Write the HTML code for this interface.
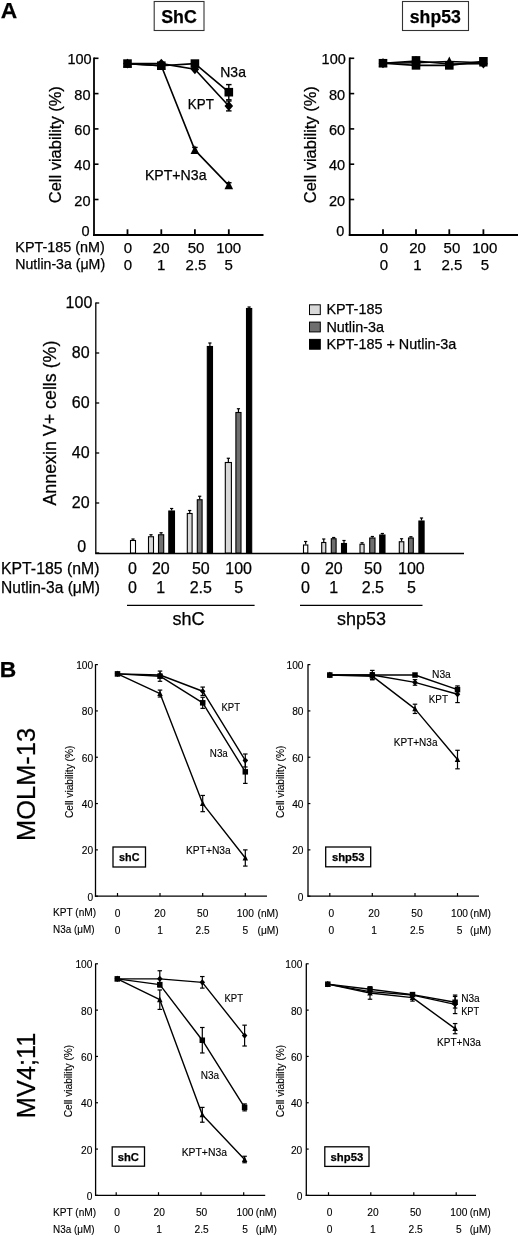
<!DOCTYPE html>
<html><head><meta charset="utf-8"><style>
html,body{margin:0;padding:0;background:#fff;}
svg{display:block;filter:grayscale(1);}
text{font-family:"Liberation Sans", sans-serif;stroke:#000;stroke-width:0.25px;}
text.sm{stroke-width:0.12px;}
</style></head><body>
<svg width="520" height="1236" viewBox="0 0 520 1236">
<rect width="520" height="1236" fill="#fff"/>
<line x1="94.00" y1="57.50" x2="94.00" y2="235.90" stroke="#000" stroke-width="1.8"/>
<line x1="93.10" y1="235.00" x2="263.50" y2="235.00" stroke="#000" stroke-width="1.8"/>
<text x="89.60" y="236.20" font-size="14.5" text-anchor="end">0</text>
<line x1="94.00" y1="199.50" x2="98.50" y2="199.50" stroke="#000" stroke-width="1.6"/>
<text x="90.50" y="205.50" font-size="14.5" text-anchor="end">20</text>
<line x1="94.00" y1="164.20" x2="98.50" y2="164.20" stroke="#000" stroke-width="1.6"/>
<text x="90.50" y="170.20" font-size="14.5" text-anchor="end">40</text>
<line x1="94.00" y1="128.90" x2="98.50" y2="128.90" stroke="#000" stroke-width="1.6"/>
<text x="90.50" y="134.90" font-size="14.5" text-anchor="end">60</text>
<line x1="94.00" y1="93.60" x2="98.50" y2="93.60" stroke="#000" stroke-width="1.6"/>
<text x="90.50" y="99.60" font-size="14.5" text-anchor="end">80</text>
<line x1="94.00" y1="58.30" x2="98.50" y2="58.30" stroke="#000" stroke-width="1.6"/>
<text x="91.60" y="64.30" font-size="14.5" text-anchor="end">100</text>
<line x1="127.50" y1="229.30" x2="127.50" y2="235.00" stroke="#000" stroke-width="1.8"/>
<line x1="161.30" y1="229.30" x2="161.30" y2="235.00" stroke="#000" stroke-width="1.8"/>
<line x1="194.90" y1="229.30" x2="194.90" y2="235.00" stroke="#000" stroke-width="1.8"/>
<line x1="228.80" y1="229.30" x2="228.80" y2="235.00" stroke="#000" stroke-width="1.8"/>
<text x="61.30" y="144.70" font-size="16" text-anchor="middle" textLength="117.00" lengthAdjust="spacingAndGlyphs" transform="rotate(-90 61.30 144.70)">Cell viability (%)</text>
<rect x="154.20" y="1.50" width="49.80" height="29.00" fill="#fff" stroke="#333" stroke-width="1.1"/>
<text x="179.00" y="22.70" font-size="19" text-anchor="middle" font-weight="bold" textLength="35.60" lengthAdjust="spacingAndGlyphs">ShC</text>
<polyline points="127.50,63.60 161.30,65.71 194.90,150.08 228.80,185.38" fill="none" stroke="#000" stroke-width="1.6" stroke-linejoin="round"/>
<polyline points="127.50,63.60 161.30,63.60 194.90,69.24 228.80,105.96" fill="none" stroke="#000" stroke-width="1.6" stroke-linejoin="round"/>
<polyline points="127.50,63.60 161.30,65.71 194.90,63.60 228.80,92.19" fill="none" stroke="#000" stroke-width="1.6" stroke-linejoin="round"/>
<line x1="194.90" y1="147.43" x2="194.90" y2="152.73" stroke="#000" stroke-width="1.4"/>
<line x1="192.15" y1="147.43" x2="197.65" y2="147.43" stroke="#000" stroke-width="1.4"/>
<line x1="192.15" y1="152.73" x2="197.65" y2="152.73" stroke="#000" stroke-width="1.4"/>
<line x1="228.80" y1="182.73" x2="228.80" y2="188.03" stroke="#000" stroke-width="1.4"/>
<line x1="226.05" y1="182.73" x2="231.55" y2="182.73" stroke="#000" stroke-width="1.4"/>
<line x1="226.05" y1="188.03" x2="231.55" y2="188.03" stroke="#000" stroke-width="1.4"/>
<line x1="228.80" y1="101.01" x2="228.80" y2="110.90" stroke="#000" stroke-width="1.4"/>
<line x1="226.05" y1="101.01" x2="231.55" y2="101.01" stroke="#000" stroke-width="1.4"/>
<line x1="226.05" y1="110.90" x2="231.55" y2="110.90" stroke="#000" stroke-width="1.4"/>
<line x1="228.80" y1="84.60" x2="228.80" y2="99.78" stroke="#000" stroke-width="1.4"/>
<line x1="226.05" y1="84.60" x2="231.55" y2="84.60" stroke="#000" stroke-width="1.4"/>
<line x1="226.05" y1="99.78" x2="231.55" y2="99.78" stroke="#000" stroke-width="1.4"/>
<polygon points="127.50,58.65 131.80,67.47 123.20,67.47" fill="#000"/>
<polygon points="161.30,60.77 165.60,69.58 157.00,69.58" fill="#000"/>
<polygon points="194.90,145.14 199.20,153.95 190.60,153.95" fill="#000"/>
<polygon points="228.80,180.44 233.10,189.25 224.50,189.25" fill="#000"/>
<polygon points="127.50,58.65 131.80,63.60 127.50,68.54 123.20,63.60" fill="#000"/>
<polygon points="161.30,58.65 165.60,63.60 161.30,68.54 157.00,63.60" fill="#000"/>
<polygon points="194.90,64.30 199.20,69.24 194.90,74.19 190.60,69.24" fill="#000"/>
<polygon points="228.80,101.01 233.10,105.96 228.80,110.90 224.50,105.96" fill="#000"/>
<rect x="123.20" y="59.30" width="8.60" height="8.60" fill="#000"/>
<rect x="157.00" y="61.41" width="8.60" height="8.60" fill="#000"/>
<rect x="190.60" y="59.30" width="8.60" height="8.60" fill="#000"/>
<rect x="224.50" y="87.89" width="8.60" height="8.60" fill="#000"/>
<text x="220.30" y="76.60" font-size="14.5" textLength="25.60" lengthAdjust="spacingAndGlyphs">N3a</text>
<text x="187.80" y="108.90" font-size="14.5" textLength="26.00" lengthAdjust="spacingAndGlyphs">KPT</text>
<text x="144.90" y="179.60" font-size="14.5" textLength="61.60" lengthAdjust="spacingAndGlyphs">KPT+N3a</text>
<line x1="349.70" y1="57.50" x2="349.70" y2="235.90" stroke="#000" stroke-width="1.8"/>
<line x1="348.80" y1="235.00" x2="518.00" y2="235.00" stroke="#000" stroke-width="1.8"/>
<text x="344.30" y="236.20" font-size="14.5" text-anchor="end">0</text>
<line x1="349.70" y1="199.50" x2="354.20" y2="199.50" stroke="#000" stroke-width="1.6"/>
<text x="345.10" y="205.50" font-size="14.5" text-anchor="end">20</text>
<line x1="349.70" y1="164.20" x2="354.20" y2="164.20" stroke="#000" stroke-width="1.6"/>
<text x="345.10" y="170.20" font-size="14.5" text-anchor="end">40</text>
<line x1="349.70" y1="128.90" x2="354.20" y2="128.90" stroke="#000" stroke-width="1.6"/>
<text x="345.10" y="134.90" font-size="14.5" text-anchor="end">60</text>
<line x1="349.70" y1="93.60" x2="354.20" y2="93.60" stroke="#000" stroke-width="1.6"/>
<text x="345.10" y="99.60" font-size="14.5" text-anchor="end">80</text>
<line x1="349.70" y1="58.30" x2="354.20" y2="58.30" stroke="#000" stroke-width="1.6"/>
<text x="345.80" y="64.30" font-size="14.5" text-anchor="end">100</text>
<line x1="383.00" y1="229.30" x2="383.00" y2="235.00" stroke="#000" stroke-width="1.8"/>
<line x1="416.00" y1="229.30" x2="416.00" y2="235.00" stroke="#000" stroke-width="1.8"/>
<line x1="449.30" y1="229.30" x2="449.30" y2="235.00" stroke="#000" stroke-width="1.8"/>
<line x1="483.40" y1="229.30" x2="483.40" y2="235.00" stroke="#000" stroke-width="1.8"/>
<text x="315.90" y="144.70" font-size="16" text-anchor="middle" textLength="117.00" lengthAdjust="spacingAndGlyphs" transform="rotate(-90 315.90 144.70)">Cell viability (%)</text>
<rect x="402.50" y="1.50" width="66.00" height="29.00" fill="#fff" stroke="#333" stroke-width="1.1"/>
<text x="435.30" y="22.70" font-size="18.5" text-anchor="middle" font-weight="bold" textLength="51.00" lengthAdjust="spacingAndGlyphs">shp53</text>
<polyline points="383.00,63.24 416.00,62.71 449.30,61.48 483.40,62.71" fill="none" stroke="#000" stroke-width="1.6" stroke-linejoin="round"/>
<polyline points="383.00,63.24 416.00,60.95 449.30,63.95 483.40,63.60" fill="none" stroke="#000" stroke-width="1.6" stroke-linejoin="round"/>
<polyline points="383.00,63.24 416.00,65.36 449.30,65.36 483.40,61.30" fill="none" stroke="#000" stroke-width="1.6" stroke-linejoin="round"/>
<polygon points="383.00,58.30 387.30,67.11 378.70,67.11" fill="#000"/>
<polygon points="416.00,57.77 420.30,66.58 411.70,66.58" fill="#000"/>
<polygon points="449.30,56.53 453.60,65.35 445.00,65.35" fill="#000"/>
<polygon points="483.40,57.77 487.70,66.58 479.10,66.58" fill="#000"/>
<polygon points="383.00,58.30 387.30,63.24 383.00,68.19 378.70,63.24" fill="#000"/>
<polygon points="416.00,56.00 420.30,60.95 416.00,65.89 411.70,60.95" fill="#000"/>
<polygon points="449.30,59.00 453.60,63.95 449.30,68.89 445.00,63.95" fill="#000"/>
<polygon points="483.40,58.65 487.70,63.60 483.40,68.54 479.10,63.60" fill="#000"/>
<rect x="378.70" y="58.94" width="8.60" height="8.60" fill="#000"/>
<rect x="411.70" y="61.06" width="8.60" height="8.60" fill="#000"/>
<rect x="445.00" y="61.06" width="8.60" height="8.60" fill="#000"/>
<rect x="479.10" y="57.00" width="8.60" height="8.60" fill="#000"/>
<rect x="411.70" y="56.12" width="8.60" height="8.60" fill="#000"/>
<text x="127.90" y="252.50" font-size="15" text-anchor="middle">0</text>
<text x="127.90" y="269.70" font-size="15" text-anchor="middle">0</text>
<text x="161.20" y="252.50" font-size="15" text-anchor="middle">20</text>
<text x="161.20" y="269.70" font-size="15" text-anchor="middle">1</text>
<text x="196.00" y="252.50" font-size="15" text-anchor="middle">50</text>
<text x="196.00" y="269.70" font-size="15" text-anchor="middle">2.5</text>
<text x="228.70" y="252.50" font-size="15" text-anchor="middle">100</text>
<text x="228.70" y="269.70" font-size="15" text-anchor="middle">5</text>
<text x="384.00" y="252.50" font-size="15" text-anchor="middle">0</text>
<text x="384.00" y="269.70" font-size="15" text-anchor="middle">0</text>
<text x="417.50" y="252.50" font-size="15" text-anchor="middle">20</text>
<text x="417.50" y="269.70" font-size="15" text-anchor="middle">1</text>
<text x="451.90" y="252.50" font-size="15" text-anchor="middle">50</text>
<text x="451.90" y="269.70" font-size="15" text-anchor="middle">2.5</text>
<text x="484.80" y="252.50" font-size="15" text-anchor="middle">100</text>
<text x="484.80" y="269.70" font-size="15" text-anchor="middle">5</text>
<text x="15.30" y="251.80" font-size="14.2" textLength="89.60" lengthAdjust="spacingAndGlyphs">KPT-185 (nM)</text>
<text x="15.30" y="268.60" font-size="14.2" textLength="89.80" lengthAdjust="spacingAndGlyphs">Nutlin-3a (μM)</text>
<line x1="95.80" y1="302.40" x2="95.80" y2="553.60" stroke="#000" stroke-width="1.3"/>
<line x1="95.20" y1="553.50" x2="464.00" y2="553.50" stroke="#000" stroke-width="1.3"/>
<line x1="95.80" y1="553.00" x2="99.20" y2="553.00" stroke="#000" stroke-width="1.3"/>
<text x="86.20" y="552.30" font-size="16" text-anchor="end">0</text>
<line x1="95.80" y1="503.00" x2="99.20" y2="503.00" stroke="#000" stroke-width="1.3"/>
<text x="89.60" y="507.90" font-size="16" text-anchor="end">20</text>
<line x1="95.80" y1="453.00" x2="99.20" y2="453.00" stroke="#000" stroke-width="1.3"/>
<text x="89.60" y="457.90" font-size="16" text-anchor="end">40</text>
<line x1="95.80" y1="403.00" x2="99.20" y2="403.00" stroke="#000" stroke-width="1.3"/>
<text x="89.60" y="407.90" font-size="16" text-anchor="end">60</text>
<line x1="95.80" y1="353.00" x2="99.20" y2="353.00" stroke="#000" stroke-width="1.3"/>
<text x="89.60" y="357.90" font-size="16" text-anchor="end">80</text>
<line x1="95.80" y1="303.00" x2="99.20" y2="303.00" stroke="#000" stroke-width="1.3"/>
<text x="92.30" y="307.90" font-size="16" text-anchor="end">100</text>
<text x="56.30" y="423.10" font-size="17.5" text-anchor="middle" textLength="165.00" lengthAdjust="spacingAndGlyphs" transform="rotate(-90 56.30 423.10)">Annexin V+ cells (%)</text>
<line x1="133.00" y1="539.00" x2="133.00" y2="540.00" stroke="#000" stroke-width="1.2"/>
<line x1="131.40" y1="539.00" x2="134.60" y2="539.00" stroke="#000" stroke-width="1.2"/>
<rect x="130.50" y="540.50" width="5.00" height="12.50" fill="#fff" stroke="#000" stroke-width="1.1"/>
<line x1="151.00" y1="534.75" x2="151.00" y2="536.25" stroke="#000" stroke-width="1.2"/>
<line x1="149.40" y1="534.75" x2="152.60" y2="534.75" stroke="#000" stroke-width="1.2"/>
<rect x="148.50" y="536.75" width="5.00" height="16.25" fill="#d8d8d8" stroke="#000" stroke-width="1.1"/>
<line x1="161.10" y1="532.75" x2="161.10" y2="534.25" stroke="#000" stroke-width="1.2"/>
<line x1="159.50" y1="532.75" x2="162.70" y2="532.75" stroke="#000" stroke-width="1.2"/>
<rect x="158.50" y="534.75" width="5.20" height="18.25" fill="#6f6f6f" stroke="#000" stroke-width="1.1"/>
<line x1="171.65" y1="508.50" x2="171.65" y2="510.50" stroke="#000" stroke-width="1.2"/>
<line x1="170.05" y1="508.50" x2="173.25" y2="508.50" stroke="#000" stroke-width="1.2"/>
<rect x="168.80" y="511.00" width="5.70" height="42.00" fill="#000" stroke="#000" stroke-width="1.1"/>
<line x1="189.70" y1="510.50" x2="189.70" y2="513.00" stroke="#000" stroke-width="1.2"/>
<line x1="188.10" y1="510.50" x2="191.30" y2="510.50" stroke="#000" stroke-width="1.2"/>
<rect x="187.30" y="513.50" width="4.80" height="39.50" fill="#d8d8d8" stroke="#000" stroke-width="1.1"/>
<line x1="199.70" y1="496.25" x2="199.70" y2="499.25" stroke="#000" stroke-width="1.2"/>
<line x1="198.10" y1="496.25" x2="201.30" y2="496.25" stroke="#000" stroke-width="1.2"/>
<rect x="197.30" y="499.75" width="4.80" height="53.25" fill="#6f6f6f" stroke="#000" stroke-width="1.1"/>
<line x1="209.90" y1="343.00" x2="209.90" y2="346.00" stroke="#000" stroke-width="1.2"/>
<line x1="208.30" y1="343.00" x2="211.50" y2="343.00" stroke="#000" stroke-width="1.2"/>
<rect x="207.30" y="346.50" width="5.20" height="206.50" fill="#000" stroke="#000" stroke-width="1.1"/>
<line x1="228.35" y1="458.25" x2="228.35" y2="462.00" stroke="#000" stroke-width="1.2"/>
<line x1="226.75" y1="458.25" x2="229.95" y2="458.25" stroke="#000" stroke-width="1.2"/>
<rect x="225.30" y="462.50" width="6.10" height="90.50" fill="#d8d8d8" stroke="#000" stroke-width="1.1"/>
<line x1="238.45" y1="408.75" x2="238.45" y2="412.00" stroke="#000" stroke-width="1.2"/>
<line x1="236.85" y1="408.75" x2="240.05" y2="408.75" stroke="#000" stroke-width="1.2"/>
<rect x="235.90" y="412.50" width="5.10" height="140.50" fill="#6f6f6f" stroke="#000" stroke-width="1.1"/>
<line x1="249.10" y1="307.00" x2="249.10" y2="308.00" stroke="#000" stroke-width="1.2"/>
<line x1="247.50" y1="307.00" x2="250.70" y2="307.00" stroke="#000" stroke-width="1.2"/>
<rect x="246.50" y="308.50" width="5.20" height="244.50" fill="#000" stroke="#000" stroke-width="1.1"/>
<line x1="305.65" y1="541.50" x2="305.65" y2="544.50" stroke="#000" stroke-width="1.2"/>
<line x1="304.05" y1="541.50" x2="307.25" y2="541.50" stroke="#000" stroke-width="1.2"/>
<rect x="303.50" y="545.00" width="4.30" height="8.00" fill="#fff" stroke="#000" stroke-width="1.1"/>
<line x1="323.75" y1="539.00" x2="323.75" y2="542.00" stroke="#000" stroke-width="1.2"/>
<line x1="322.15" y1="539.00" x2="325.35" y2="539.00" stroke="#000" stroke-width="1.2"/>
<rect x="321.70" y="542.50" width="4.10" height="10.50" fill="#d8d8d8" stroke="#000" stroke-width="1.1"/>
<line x1="333.70" y1="537.50" x2="333.70" y2="538.25" stroke="#000" stroke-width="1.2"/>
<line x1="332.10" y1="537.50" x2="335.30" y2="537.50" stroke="#000" stroke-width="1.2"/>
<rect x="331.30" y="538.75" width="4.80" height="14.25" fill="#6f6f6f" stroke="#000" stroke-width="1.1"/>
<line x1="344.00" y1="540.50" x2="344.00" y2="543.00" stroke="#000" stroke-width="1.2"/>
<line x1="342.40" y1="540.50" x2="345.60" y2="540.50" stroke="#000" stroke-width="1.2"/>
<rect x="341.50" y="543.50" width="5.00" height="9.50" fill="#000" stroke="#000" stroke-width="1.1"/>
<line x1="362.05" y1="542.75" x2="362.05" y2="543.75" stroke="#000" stroke-width="1.2"/>
<line x1="360.45" y1="542.75" x2="363.65" y2="542.75" stroke="#000" stroke-width="1.2"/>
<rect x="360.00" y="544.25" width="4.10" height="8.75" fill="#d8d8d8" stroke="#000" stroke-width="1.1"/>
<line x1="372.35" y1="536.50" x2="372.35" y2="537.50" stroke="#000" stroke-width="1.2"/>
<line x1="370.75" y1="536.50" x2="373.95" y2="536.50" stroke="#000" stroke-width="1.2"/>
<rect x="369.70" y="538.00" width="5.30" height="15.00" fill="#6f6f6f" stroke="#000" stroke-width="1.1"/>
<line x1="382.35" y1="533.50" x2="382.35" y2="534.50" stroke="#000" stroke-width="1.2"/>
<line x1="380.75" y1="533.50" x2="383.95" y2="533.50" stroke="#000" stroke-width="1.2"/>
<rect x="379.70" y="535.00" width="5.30" height="18.00" fill="#000" stroke="#000" stroke-width="1.1"/>
<line x1="401.55" y1="538.75" x2="401.55" y2="541.25" stroke="#000" stroke-width="1.2"/>
<line x1="399.95" y1="538.75" x2="403.15" y2="538.75" stroke="#000" stroke-width="1.2"/>
<rect x="399.30" y="541.75" width="4.50" height="11.25" fill="#d8d8d8" stroke="#000" stroke-width="1.1"/>
<line x1="410.90" y1="536.75" x2="410.90" y2="537.50" stroke="#000" stroke-width="1.2"/>
<line x1="409.30" y1="536.75" x2="412.50" y2="536.75" stroke="#000" stroke-width="1.2"/>
<rect x="408.50" y="538.00" width="4.80" height="15.00" fill="#6f6f6f" stroke="#000" stroke-width="1.1"/>
<line x1="421.50" y1="518.00" x2="421.50" y2="520.50" stroke="#000" stroke-width="1.2"/>
<line x1="419.90" y1="518.00" x2="423.10" y2="518.00" stroke="#000" stroke-width="1.2"/>
<rect x="418.90" y="521.00" width="5.20" height="32.00" fill="#000" stroke="#000" stroke-width="1.1"/>
<rect x="309.50" y="304.80" width="10.80" height="9.80" fill="#d8d8d8" stroke="#000" stroke-width="1.0"/>
<text x="326.40" y="314.30" font-size="14.4">KPT-185</text>
<rect x="309.50" y="322.10" width="10.80" height="9.80" fill="#6f6f6f" stroke="#000" stroke-width="1.0"/>
<text x="326.40" y="331.60" font-size="14.4">Nutlin-3a</text>
<rect x="309.50" y="339.40" width="10.80" height="9.80" fill="#000" stroke="#000" stroke-width="1.0"/>
<text x="326.40" y="348.90" font-size="14.4">KPT-185 + Nutlin-3a</text>
<text x="1.00" y="573.60" font-size="16" textLength="98.40" lengthAdjust="spacingAndGlyphs">KPT-185 (nM)</text>
<text x="1.00" y="592.60" font-size="16" textLength="99.00" lengthAdjust="spacingAndGlyphs">Nutlin-3a (μM)</text>
<text x="132.50" y="574.40" font-size="16" text-anchor="middle">0</text>
<text x="132.50" y="593.40" font-size="16" text-anchor="middle">0</text>
<text x="160.80" y="574.40" font-size="16" text-anchor="middle">20</text>
<text x="160.80" y="593.40" font-size="16" text-anchor="middle">1</text>
<text x="200.80" y="574.40" font-size="16" text-anchor="middle">50</text>
<text x="200.80" y="593.40" font-size="16" text-anchor="middle">2.5</text>
<text x="238.60" y="574.40" font-size="16" text-anchor="middle">100</text>
<text x="238.60" y="593.40" font-size="16" text-anchor="middle">5</text>
<text x="305.50" y="574.40" font-size="16" text-anchor="middle">0</text>
<text x="305.50" y="593.40" font-size="16" text-anchor="middle">0</text>
<text x="333.80" y="574.40" font-size="16" text-anchor="middle">20</text>
<text x="333.80" y="593.40" font-size="16" text-anchor="middle">1</text>
<text x="372.90" y="574.40" font-size="16" text-anchor="middle">50</text>
<text x="372.90" y="593.40" font-size="16" text-anchor="middle">2.5</text>
<text x="411.40" y="574.40" font-size="16" text-anchor="middle">100</text>
<text x="411.40" y="593.40" font-size="16" text-anchor="middle">5</text>
<line x1="127.00" y1="605.40" x2="254.60" y2="605.40" stroke="#000" stroke-width="1.3"/>
<line x1="300.00" y1="605.40" x2="422.50" y2="605.40" stroke="#000" stroke-width="1.3"/>
<text x="188.60" y="625.40" font-size="18" text-anchor="middle">shC</text>
<text x="361.50" y="625.40" font-size="18" text-anchor="middle">shp53</text>
<line x1="95.50" y1="664.20" x2="95.50" y2="896.80" stroke="#000" stroke-width="1.3"/>
<line x1="94.90" y1="896.20" x2="267.00" y2="896.20" stroke="#000" stroke-width="1.3"/>
<line x1="95.50" y1="896.20" x2="97.90" y2="896.20" stroke="#000" stroke-width="1.2"/>
<text x="93.20" y="900.70" font-size="10.2" text-anchor="end" class="sm">0</text>
<line x1="95.50" y1="849.88" x2="97.90" y2="849.88" stroke="#000" stroke-width="1.2"/>
<text x="93.20" y="854.38" font-size="10.2" text-anchor="end" class="sm">20</text>
<line x1="95.50" y1="803.56" x2="97.90" y2="803.56" stroke="#000" stroke-width="1.2"/>
<text x="93.20" y="808.06" font-size="10.2" text-anchor="end" class="sm">40</text>
<line x1="95.50" y1="757.24" x2="97.90" y2="757.24" stroke="#000" stroke-width="1.2"/>
<text x="93.20" y="761.74" font-size="10.2" text-anchor="end" class="sm">60</text>
<line x1="95.50" y1="710.92" x2="97.90" y2="710.92" stroke="#000" stroke-width="1.2"/>
<text x="93.20" y="715.42" font-size="10.2" text-anchor="end" class="sm">80</text>
<line x1="95.50" y1="664.60" x2="97.90" y2="664.60" stroke="#000" stroke-width="1.2"/>
<text x="93.20" y="669.10" font-size="10.2" text-anchor="end" class="sm">100</text>
<line x1="117.50" y1="893.00" x2="117.50" y2="896.20" stroke="#000" stroke-width="1.2"/>
<line x1="160.00" y1="893.00" x2="160.00" y2="896.20" stroke="#000" stroke-width="1.2"/>
<line x1="202.70" y1="893.00" x2="202.70" y2="896.20" stroke="#000" stroke-width="1.2"/>
<line x1="245.30" y1="893.00" x2="245.30" y2="896.20" stroke="#000" stroke-width="1.2"/>
<text x="73.00" y="781.80" font-size="10.0" text-anchor="middle" textLength="72.50" lengthAdjust="spacingAndGlyphs" transform="rotate(-90 73.00 781.80)" class="sm">Cell viability (%)</text>
<rect x="113.00" y="847.00" width="32.50" height="20.00" fill="#fff" stroke="#000" stroke-width="1.3"/>
<text x="129.25" y="861.00" font-size="11.5" text-anchor="middle" font-weight="bold" textLength="20.40" lengthAdjust="spacingAndGlyphs">shC</text>
<polyline points="117.50,673.86 160.00,693.55 202.70,803.56 245.30,857.99" fill="none" stroke="#000" stroke-width="1.4" stroke-linejoin="round"/>
<polyline points="117.50,673.86 160.00,676.18 202.70,702.81 245.30,771.83" fill="none" stroke="#000" stroke-width="1.4" stroke-linejoin="round"/>
<polyline points="117.50,673.86 160.00,675.02 202.70,691.23 245.30,760.48" fill="none" stroke="#000" stroke-width="1.4" stroke-linejoin="round"/>
<line x1="160.00" y1="690.08" x2="160.00" y2="697.02" stroke="#000" stroke-width="1.2"/>
<line x1="157.75" y1="690.08" x2="162.25" y2="690.08" stroke="#000" stroke-width="1.2"/>
<line x1="157.75" y1="697.02" x2="162.25" y2="697.02" stroke="#000" stroke-width="1.2"/>
<line x1="202.70" y1="795.45" x2="202.70" y2="811.67" stroke="#000" stroke-width="1.2"/>
<line x1="200.45" y1="795.45" x2="204.95" y2="795.45" stroke="#000" stroke-width="1.2"/>
<line x1="200.45" y1="811.67" x2="204.95" y2="811.67" stroke="#000" stroke-width="1.2"/>
<line x1="245.30" y1="849.88" x2="245.30" y2="866.09" stroke="#000" stroke-width="1.2"/>
<line x1="243.05" y1="849.88" x2="247.55" y2="849.88" stroke="#000" stroke-width="1.2"/>
<line x1="243.05" y1="866.09" x2="247.55" y2="866.09" stroke="#000" stroke-width="1.2"/>
<line x1="160.00" y1="671.08" x2="160.00" y2="681.28" stroke="#000" stroke-width="1.2"/>
<line x1="157.75" y1="671.08" x2="162.25" y2="671.08" stroke="#000" stroke-width="1.2"/>
<line x1="157.75" y1="681.28" x2="162.25" y2="681.28" stroke="#000" stroke-width="1.2"/>
<line x1="202.70" y1="697.26" x2="202.70" y2="708.37" stroke="#000" stroke-width="1.2"/>
<line x1="200.45" y1="697.26" x2="204.95" y2="697.26" stroke="#000" stroke-width="1.2"/>
<line x1="200.45" y1="708.37" x2="204.95" y2="708.37" stroke="#000" stroke-width="1.2"/>
<line x1="245.30" y1="760.25" x2="245.30" y2="783.41" stroke="#000" stroke-width="1.2"/>
<line x1="243.05" y1="760.25" x2="247.55" y2="760.25" stroke="#000" stroke-width="1.2"/>
<line x1="243.05" y1="783.41" x2="247.55" y2="783.41" stroke="#000" stroke-width="1.2"/>
<line x1="202.70" y1="687.07" x2="202.70" y2="695.40" stroke="#000" stroke-width="1.2"/>
<line x1="200.45" y1="687.07" x2="204.95" y2="687.07" stroke="#000" stroke-width="1.2"/>
<line x1="200.45" y1="695.40" x2="204.95" y2="695.40" stroke="#000" stroke-width="1.2"/>
<line x1="245.30" y1="754.00" x2="245.30" y2="766.97" stroke="#000" stroke-width="1.2"/>
<line x1="243.05" y1="754.00" x2="247.55" y2="754.00" stroke="#000" stroke-width="1.2"/>
<line x1="243.05" y1="766.97" x2="247.55" y2="766.97" stroke="#000" stroke-width="1.2"/>
<polygon points="117.50,670.70 120.25,676.34 114.75,676.34" fill="#000"/>
<polygon points="160.00,690.39 162.75,696.02 157.25,696.02" fill="#000"/>
<polygon points="202.70,800.40 205.45,806.04 199.95,806.04" fill="#000"/>
<polygon points="245.30,854.82 248.05,860.46 242.55,860.46" fill="#000"/>
<rect x="114.75" y="671.11" width="5.50" height="5.50" fill="#000"/>
<rect x="157.25" y="673.43" width="5.50" height="5.50" fill="#000"/>
<rect x="199.95" y="700.06" width="5.50" height="5.50" fill="#000"/>
<rect x="242.55" y="769.08" width="5.50" height="5.50" fill="#000"/>
<polygon points="117.50,670.70 120.25,673.86 117.50,677.03 114.75,673.86" fill="#000"/>
<polygon points="160.00,671.86 162.75,675.02 160.00,678.18 157.25,675.02" fill="#000"/>
<polygon points="202.70,688.07 205.45,691.23 202.70,694.40 199.95,691.23" fill="#000"/>
<polygon points="245.30,757.32 248.05,760.48 245.30,763.64 242.55,760.48" fill="#000"/>
<text x="221.50" y="710.50" font-size="10" textLength="18.50" lengthAdjust="spacingAndGlyphs" class="sm">KPT</text>
<text x="209.80" y="756.50" font-size="10" textLength="18.00" lengthAdjust="spacingAndGlyphs" class="sm">N3a</text>
<text x="186.00" y="853.50" font-size="10" textLength="44.80" lengthAdjust="spacingAndGlyphs" class="sm">KPT+N3a</text>
<text x="117.50" y="916.50" font-size="10.2" text-anchor="middle" class="sm">0</text>
<text x="117.50" y="933.60" font-size="10.2" text-anchor="middle" class="sm">0</text>
<text x="160.00" y="916.50" font-size="10.2" text-anchor="middle" class="sm">20</text>
<text x="160.00" y="933.60" font-size="10.2" text-anchor="middle" class="sm">1</text>
<text x="202.70" y="916.50" font-size="10.2" text-anchor="middle" class="sm">50</text>
<text x="202.70" y="933.60" font-size="10.2" text-anchor="middle" class="sm">2.5</text>
<text x="245.30" y="916.50" font-size="10.2" text-anchor="middle" class="sm">100</text>
<text x="245.30" y="933.60" font-size="10.2" text-anchor="middle" class="sm">5</text>
<text x="257.50" y="916.50" font-size="10.2" class="sm">(nM)</text>
<text x="257.50" y="933.60" font-size="10.2" class="sm">(μM)</text>
<line x1="308.00" y1="664.20" x2="308.00" y2="896.80" stroke="#000" stroke-width="1.3"/>
<line x1="307.40" y1="896.20" x2="479.00" y2="896.20" stroke="#000" stroke-width="1.3"/>
<line x1="308.00" y1="896.20" x2="310.40" y2="896.20" stroke="#000" stroke-width="1.2"/>
<text x="303.50" y="900.70" font-size="10.2" text-anchor="end" class="sm">0</text>
<line x1="308.00" y1="849.88" x2="310.40" y2="849.88" stroke="#000" stroke-width="1.2"/>
<text x="303.50" y="854.38" font-size="10.2" text-anchor="end" class="sm">20</text>
<line x1="308.00" y1="803.56" x2="310.40" y2="803.56" stroke="#000" stroke-width="1.2"/>
<text x="303.50" y="808.06" font-size="10.2" text-anchor="end" class="sm">40</text>
<line x1="308.00" y1="757.24" x2="310.40" y2="757.24" stroke="#000" stroke-width="1.2"/>
<text x="303.50" y="761.74" font-size="10.2" text-anchor="end" class="sm">60</text>
<line x1="308.00" y1="710.92" x2="310.40" y2="710.92" stroke="#000" stroke-width="1.2"/>
<text x="303.50" y="715.42" font-size="10.2" text-anchor="end" class="sm">80</text>
<line x1="308.00" y1="664.60" x2="310.40" y2="664.60" stroke="#000" stroke-width="1.2"/>
<text x="303.50" y="669.10" font-size="10.2" text-anchor="end" class="sm">100</text>
<line x1="329.80" y1="893.00" x2="329.80" y2="896.20" stroke="#000" stroke-width="1.2"/>
<line x1="372.30" y1="893.00" x2="372.30" y2="896.20" stroke="#000" stroke-width="1.2"/>
<line x1="415.00" y1="893.00" x2="415.00" y2="896.20" stroke="#000" stroke-width="1.2"/>
<line x1="457.50" y1="893.00" x2="457.50" y2="896.20" stroke="#000" stroke-width="1.2"/>
<text x="284.30" y="781.80" font-size="10.0" text-anchor="middle" textLength="72.50" lengthAdjust="spacingAndGlyphs" transform="rotate(-90 284.30 781.80)" class="sm">Cell viability (%)</text>
<rect x="325.70" y="847.00" width="45.00" height="19.80" fill="#fff" stroke="#000" stroke-width="1.3"/>
<text x="348.20" y="860.90" font-size="11.5" text-anchor="middle" font-weight="bold" textLength="32.60" lengthAdjust="spacingAndGlyphs">shp53</text>
<polyline points="329.80,675.02 372.30,676.18 415.00,708.84 457.50,759.56" fill="none" stroke="#000" stroke-width="1.4" stroke-linejoin="round"/>
<polyline points="329.80,675.02 372.30,675.02 415.00,675.02 457.50,689.61" fill="none" stroke="#000" stroke-width="1.4" stroke-linejoin="round"/>
<polyline points="329.80,675.02 372.30,675.02 415.00,682.43 457.50,694.24" fill="none" stroke="#000" stroke-width="1.4" stroke-linejoin="round"/>
<line x1="372.30" y1="672.71" x2="372.30" y2="679.65" stroke="#000" stroke-width="1.2"/>
<line x1="370.05" y1="672.71" x2="374.55" y2="672.71" stroke="#000" stroke-width="1.2"/>
<line x1="370.05" y1="679.65" x2="374.55" y2="679.65" stroke="#000" stroke-width="1.2"/>
<line x1="415.00" y1="704.20" x2="415.00" y2="713.47" stroke="#000" stroke-width="1.2"/>
<line x1="412.75" y1="704.20" x2="417.25" y2="704.20" stroke="#000" stroke-width="1.2"/>
<line x1="412.75" y1="713.47" x2="417.25" y2="713.47" stroke="#000" stroke-width="1.2"/>
<line x1="457.50" y1="750.29" x2="457.50" y2="768.82" stroke="#000" stroke-width="1.2"/>
<line x1="455.25" y1="750.29" x2="459.75" y2="750.29" stroke="#000" stroke-width="1.2"/>
<line x1="455.25" y1="768.82" x2="459.75" y2="768.82" stroke="#000" stroke-width="1.2"/>
<line x1="457.50" y1="687.76" x2="457.50" y2="691.47" stroke="#000" stroke-width="1.2"/>
<line x1="455.25" y1="687.76" x2="459.75" y2="687.76" stroke="#000" stroke-width="1.2"/>
<line x1="455.25" y1="691.47" x2="459.75" y2="691.47" stroke="#000" stroke-width="1.2"/>
<line x1="372.30" y1="670.39" x2="372.30" y2="679.65" stroke="#000" stroke-width="1.2"/>
<line x1="370.05" y1="670.39" x2="374.55" y2="670.39" stroke="#000" stroke-width="1.2"/>
<line x1="370.05" y1="679.65" x2="374.55" y2="679.65" stroke="#000" stroke-width="1.2"/>
<line x1="415.00" y1="679.65" x2="415.00" y2="685.21" stroke="#000" stroke-width="1.2"/>
<line x1="412.75" y1="679.65" x2="417.25" y2="679.65" stroke="#000" stroke-width="1.2"/>
<line x1="412.75" y1="685.21" x2="417.25" y2="685.21" stroke="#000" stroke-width="1.2"/>
<line x1="457.50" y1="685.91" x2="457.50" y2="702.58" stroke="#000" stroke-width="1.2"/>
<line x1="455.25" y1="685.91" x2="459.75" y2="685.91" stroke="#000" stroke-width="1.2"/>
<line x1="455.25" y1="702.58" x2="459.75" y2="702.58" stroke="#000" stroke-width="1.2"/>
<polygon points="329.80,671.86 332.55,677.50 327.05,677.50" fill="#000"/>
<polygon points="372.30,673.02 375.05,678.66 369.55,678.66" fill="#000"/>
<polygon points="415.00,705.67 417.75,711.31 412.25,711.31" fill="#000"/>
<polygon points="457.50,756.39 460.25,762.03 454.75,762.03" fill="#000"/>
<rect x="327.05" y="672.27" width="5.50" height="5.50" fill="#000"/>
<rect x="369.55" y="672.27" width="5.50" height="5.50" fill="#000"/>
<rect x="412.25" y="672.27" width="5.50" height="5.50" fill="#000"/>
<rect x="454.75" y="686.86" width="5.50" height="5.50" fill="#000"/>
<polygon points="329.80,671.86 332.55,675.02 329.80,678.18 327.05,675.02" fill="#000"/>
<polygon points="372.30,671.86 375.05,675.02 372.30,678.18 369.55,675.02" fill="#000"/>
<polygon points="415.00,679.27 417.75,682.43 415.00,685.60 412.25,682.43" fill="#000"/>
<polygon points="457.50,691.08 460.25,694.24 457.50,697.41 454.75,694.24" fill="#000"/>
<text x="432.00" y="678.00" font-size="10" textLength="18.80" lengthAdjust="spacingAndGlyphs" class="sm">N3a</text>
<text x="428.70" y="703.20" font-size="10" textLength="19.30" lengthAdjust="spacingAndGlyphs" class="sm">KPT</text>
<text x="393.80" y="745.50" font-size="10" textLength="43.70" lengthAdjust="spacingAndGlyphs" class="sm">KPT+N3a</text>
<text x="331.30" y="916.50" font-size="10.2" text-anchor="middle" class="sm">0</text>
<text x="331.30" y="933.60" font-size="10.2" text-anchor="middle" class="sm">0</text>
<text x="374.00" y="916.50" font-size="10.2" text-anchor="middle" class="sm">20</text>
<text x="374.00" y="933.60" font-size="10.2" text-anchor="middle" class="sm">1</text>
<text x="417.00" y="916.50" font-size="10.2" text-anchor="middle" class="sm">50</text>
<text x="417.00" y="933.60" font-size="10.2" text-anchor="middle" class="sm">2.5</text>
<text x="459.50" y="916.50" font-size="10.2" text-anchor="middle" class="sm">100</text>
<text x="459.50" y="933.60" font-size="10.2" text-anchor="middle" class="sm">5</text>
<text x="470.00" y="916.50" font-size="10.2" class="sm">(nM)</text>
<text x="470.00" y="933.60" font-size="10.2" class="sm">(μM)</text>
<line x1="95.60" y1="963.40" x2="95.60" y2="1196.00" stroke="#000" stroke-width="1.3"/>
<line x1="95.00" y1="1195.40" x2="265.20" y2="1195.40" stroke="#000" stroke-width="1.3"/>
<line x1="95.60" y1="1195.40" x2="98.00" y2="1195.40" stroke="#000" stroke-width="1.2"/>
<text x="92.40" y="1199.90" font-size="10.2" text-anchor="end" class="sm">0</text>
<line x1="95.60" y1="1149.08" x2="98.00" y2="1149.08" stroke="#000" stroke-width="1.2"/>
<text x="92.40" y="1153.58" font-size="10.2" text-anchor="end" class="sm">20</text>
<line x1="95.60" y1="1102.76" x2="98.00" y2="1102.76" stroke="#000" stroke-width="1.2"/>
<text x="92.40" y="1107.26" font-size="10.2" text-anchor="end" class="sm">40</text>
<line x1="95.60" y1="1056.44" x2="98.00" y2="1056.44" stroke="#000" stroke-width="1.2"/>
<text x="92.40" y="1060.94" font-size="10.2" text-anchor="end" class="sm">60</text>
<line x1="95.60" y1="1010.12" x2="98.00" y2="1010.12" stroke="#000" stroke-width="1.2"/>
<text x="92.40" y="1014.62" font-size="10.2" text-anchor="end" class="sm">80</text>
<line x1="95.60" y1="963.80" x2="98.00" y2="963.80" stroke="#000" stroke-width="1.2"/>
<text x="92.40" y="968.30" font-size="10.2" text-anchor="end" class="sm">100</text>
<line x1="116.20" y1="1192.20" x2="116.20" y2="1195.40" stroke="#000" stroke-width="1.2"/>
<line x1="158.50" y1="1192.20" x2="158.50" y2="1195.40" stroke="#000" stroke-width="1.2"/>
<line x1="201.00" y1="1192.20" x2="201.00" y2="1195.40" stroke="#000" stroke-width="1.2"/>
<line x1="243.70" y1="1192.20" x2="243.70" y2="1195.40" stroke="#000" stroke-width="1.2"/>
<text x="71.60" y="1081.00" font-size="10.0" text-anchor="middle" textLength="72.50" lengthAdjust="spacingAndGlyphs" transform="rotate(-90 71.60 1081.00)" class="sm">Cell viability (%)</text>
<rect x="112.20" y="1146.90" width="32.30" height="19.30" fill="#fff" stroke="#000" stroke-width="1.3"/>
<text x="128.35" y="1160.55" font-size="11.5" text-anchor="middle" font-weight="bold" textLength="21.20" lengthAdjust="spacingAndGlyphs">shC</text>
<polyline points="117.30,978.85 159.80,999.70 202.30,1114.80 244.60,1159.50" fill="none" stroke="#000" stroke-width="1.4" stroke-linejoin="round"/>
<polyline points="117.30,978.85 159.80,984.64 202.30,1040.23 244.60,1107.39" fill="none" stroke="#000" stroke-width="1.4" stroke-linejoin="round"/>
<polyline points="117.30,978.85 159.80,978.85 202.30,982.33 244.60,1035.60" fill="none" stroke="#000" stroke-width="1.4" stroke-linejoin="round"/>
<line x1="159.80" y1="989.97" x2="159.80" y2="1009.43" stroke="#000" stroke-width="1.2"/>
<line x1="157.55" y1="989.97" x2="162.05" y2="989.97" stroke="#000" stroke-width="1.2"/>
<line x1="157.55" y1="1009.43" x2="162.05" y2="1009.43" stroke="#000" stroke-width="1.2"/>
<line x1="202.30" y1="1107.39" x2="202.30" y2="1122.21" stroke="#000" stroke-width="1.2"/>
<line x1="200.05" y1="1107.39" x2="204.55" y2="1107.39" stroke="#000" stroke-width="1.2"/>
<line x1="200.05" y1="1122.21" x2="204.55" y2="1122.21" stroke="#000" stroke-width="1.2"/>
<line x1="244.60" y1="1156.26" x2="244.60" y2="1162.74" stroke="#000" stroke-width="1.2"/>
<line x1="242.35" y1="1156.26" x2="246.85" y2="1156.26" stroke="#000" stroke-width="1.2"/>
<line x1="242.35" y1="1162.74" x2="246.85" y2="1162.74" stroke="#000" stroke-width="1.2"/>
<line x1="202.30" y1="1027.49" x2="202.30" y2="1052.97" stroke="#000" stroke-width="1.2"/>
<line x1="200.05" y1="1027.49" x2="204.55" y2="1027.49" stroke="#000" stroke-width="1.2"/>
<line x1="200.05" y1="1052.97" x2="204.55" y2="1052.97" stroke="#000" stroke-width="1.2"/>
<line x1="244.60" y1="1103.92" x2="244.60" y2="1110.87" stroke="#000" stroke-width="1.2"/>
<line x1="242.35" y1="1103.92" x2="246.85" y2="1103.92" stroke="#000" stroke-width="1.2"/>
<line x1="242.35" y1="1110.87" x2="246.85" y2="1110.87" stroke="#000" stroke-width="1.2"/>
<line x1="159.80" y1="970.75" x2="159.80" y2="986.96" stroke="#000" stroke-width="1.2"/>
<line x1="157.55" y1="970.75" x2="162.05" y2="970.75" stroke="#000" stroke-width="1.2"/>
<line x1="157.55" y1="986.96" x2="162.05" y2="986.96" stroke="#000" stroke-width="1.2"/>
<line x1="202.30" y1="976.54" x2="202.30" y2="988.12" stroke="#000" stroke-width="1.2"/>
<line x1="200.05" y1="976.54" x2="204.55" y2="976.54" stroke="#000" stroke-width="1.2"/>
<line x1="200.05" y1="988.12" x2="204.55" y2="988.12" stroke="#000" stroke-width="1.2"/>
<line x1="244.60" y1="1025.17" x2="244.60" y2="1046.02" stroke="#000" stroke-width="1.2"/>
<line x1="242.35" y1="1025.17" x2="246.85" y2="1025.17" stroke="#000" stroke-width="1.2"/>
<line x1="242.35" y1="1046.02" x2="246.85" y2="1046.02" stroke="#000" stroke-width="1.2"/>
<polygon points="117.30,975.69 120.05,981.33 114.55,981.33" fill="#000"/>
<polygon points="159.80,996.54 162.55,1002.17 157.05,1002.17" fill="#000"/>
<polygon points="202.30,1111.64 205.05,1117.28 199.55,1117.28" fill="#000"/>
<polygon points="244.60,1156.34 247.35,1161.98 241.85,1161.98" fill="#000"/>
<rect x="114.55" y="976.10" width="5.50" height="5.50" fill="#000"/>
<rect x="157.05" y="981.89" width="5.50" height="5.50" fill="#000"/>
<rect x="199.55" y="1037.48" width="5.50" height="5.50" fill="#000"/>
<rect x="241.85" y="1104.64" width="5.50" height="5.50" fill="#000"/>
<polygon points="117.30,975.69 120.05,978.85 117.30,982.02 114.55,978.85" fill="#000"/>
<polygon points="159.80,975.69 162.55,978.85 159.80,982.02 157.05,978.85" fill="#000"/>
<polygon points="202.30,979.17 205.05,982.33 202.30,985.49 199.55,982.33" fill="#000"/>
<polygon points="244.60,1032.43 247.35,1035.60 244.60,1038.76 241.85,1035.60" fill="#000"/>
<text x="224.50" y="1002.20" font-size="10" textLength="18.50" lengthAdjust="spacingAndGlyphs" class="sm">KPT</text>
<text x="200.80" y="1078.70" font-size="10" textLength="18.40" lengthAdjust="spacingAndGlyphs" class="sm">N3a</text>
<text x="181.70" y="1156.20" font-size="10" textLength="45.30" lengthAdjust="spacingAndGlyphs" class="sm">KPT+N3a</text>
<text x="117.00" y="1215.70" font-size="10.2" text-anchor="middle" class="sm">0</text>
<text x="117.00" y="1232.80" font-size="10.2" text-anchor="middle" class="sm">0</text>
<text x="159.20" y="1215.70" font-size="10.2" text-anchor="middle" class="sm">20</text>
<text x="159.20" y="1232.80" font-size="10.2" text-anchor="middle" class="sm">1</text>
<text x="201.60" y="1215.70" font-size="10.2" text-anchor="middle" class="sm">50</text>
<text x="201.60" y="1232.80" font-size="10.2" text-anchor="middle" class="sm">2.5</text>
<text x="245.00" y="1215.70" font-size="10.2" text-anchor="middle" class="sm">100</text>
<text x="245.00" y="1232.80" font-size="10.2" text-anchor="middle" class="sm">5</text>
<text x="255.80" y="1215.70" font-size="10.2" class="sm">(nM)</text>
<text x="255.80" y="1232.80" font-size="10.2" class="sm">(μM)</text>
<line x1="306.30" y1="963.40" x2="306.30" y2="1196.00" stroke="#000" stroke-width="1.3"/>
<line x1="305.70" y1="1195.40" x2="476.00" y2="1195.40" stroke="#000" stroke-width="1.3"/>
<line x1="306.30" y1="1195.40" x2="308.70" y2="1195.40" stroke="#000" stroke-width="1.2"/>
<text x="302.30" y="1199.90" font-size="10.2" text-anchor="end" class="sm">0</text>
<line x1="306.30" y1="1149.08" x2="308.70" y2="1149.08" stroke="#000" stroke-width="1.2"/>
<text x="302.30" y="1153.58" font-size="10.2" text-anchor="end" class="sm">20</text>
<line x1="306.30" y1="1102.76" x2="308.70" y2="1102.76" stroke="#000" stroke-width="1.2"/>
<text x="302.30" y="1107.26" font-size="10.2" text-anchor="end" class="sm">40</text>
<line x1="306.30" y1="1056.44" x2="308.70" y2="1056.44" stroke="#000" stroke-width="1.2"/>
<text x="302.30" y="1060.94" font-size="10.2" text-anchor="end" class="sm">60</text>
<line x1="306.30" y1="1010.12" x2="308.70" y2="1010.12" stroke="#000" stroke-width="1.2"/>
<text x="302.30" y="1014.62" font-size="10.2" text-anchor="end" class="sm">80</text>
<line x1="306.30" y1="963.80" x2="308.70" y2="963.80" stroke="#000" stroke-width="1.2"/>
<text x="302.30" y="968.30" font-size="10.2" text-anchor="end" class="sm">100</text>
<line x1="328.50" y1="1192.20" x2="328.50" y2="1195.40" stroke="#000" stroke-width="1.2"/>
<line x1="370.80" y1="1192.20" x2="370.80" y2="1195.40" stroke="#000" stroke-width="1.2"/>
<line x1="413.80" y1="1192.20" x2="413.80" y2="1195.40" stroke="#000" stroke-width="1.2"/>
<line x1="456.20" y1="1192.20" x2="456.20" y2="1195.40" stroke="#000" stroke-width="1.2"/>
<text x="283.60" y="1081.00" font-size="10.0" text-anchor="middle" textLength="72.50" lengthAdjust="spacingAndGlyphs" transform="rotate(-90 283.60 1081.00)" class="sm">Cell viability (%)</text>
<rect x="324.80" y="1146.80" width="44.20" height="19.60" fill="#fff" stroke="#000" stroke-width="1.3"/>
<text x="346.90" y="1160.60" font-size="11.5" text-anchor="middle" font-weight="bold" textLength="32.60" lengthAdjust="spacingAndGlyphs">shp53</text>
<polyline points="327.80,984.18 370.00,992.98 412.50,997.61 455.10,1028.65" fill="none" stroke="#000" stroke-width="1.4" stroke-linejoin="round"/>
<polyline points="327.80,984.18 370.00,989.28 412.50,994.60 455.10,1002.25" fill="none" stroke="#000" stroke-width="1.4" stroke-linejoin="round"/>
<polyline points="327.80,984.18 370.00,991.59 412.50,995.07 455.10,1004.33" fill="none" stroke="#000" stroke-width="1.4" stroke-linejoin="round"/>
<line x1="370.00" y1="986.73" x2="370.00" y2="999.23" stroke="#000" stroke-width="1.2"/>
<line x1="367.75" y1="986.73" x2="372.25" y2="986.73" stroke="#000" stroke-width="1.2"/>
<line x1="367.75" y1="999.23" x2="372.25" y2="999.23" stroke="#000" stroke-width="1.2"/>
<line x1="412.50" y1="994.14" x2="412.50" y2="1001.09" stroke="#000" stroke-width="1.2"/>
<line x1="410.25" y1="994.14" x2="414.75" y2="994.14" stroke="#000" stroke-width="1.2"/>
<line x1="410.25" y1="1001.09" x2="414.75" y2="1001.09" stroke="#000" stroke-width="1.2"/>
<line x1="455.10" y1="1023.55" x2="455.10" y2="1033.74" stroke="#000" stroke-width="1.2"/>
<line x1="452.85" y1="1023.55" x2="457.35" y2="1023.55" stroke="#000" stroke-width="1.2"/>
<line x1="452.85" y1="1033.74" x2="457.35" y2="1033.74" stroke="#000" stroke-width="1.2"/>
<line x1="455.10" y1="996.46" x2="455.10" y2="1008.04" stroke="#000" stroke-width="1.2"/>
<line x1="452.85" y1="996.46" x2="457.35" y2="996.46" stroke="#000" stroke-width="1.2"/>
<line x1="452.85" y1="1008.04" x2="457.35" y2="1008.04" stroke="#000" stroke-width="1.2"/>
<line x1="455.10" y1="995.07" x2="455.10" y2="1013.59" stroke="#000" stroke-width="1.2"/>
<line x1="452.85" y1="995.07" x2="457.35" y2="995.07" stroke="#000" stroke-width="1.2"/>
<line x1="452.85" y1="1013.59" x2="457.35" y2="1013.59" stroke="#000" stroke-width="1.2"/>
<polygon points="327.80,981.02 330.55,986.66 325.05,986.66" fill="#000"/>
<polygon points="370.00,989.82 372.75,995.46 367.25,995.46" fill="#000"/>
<polygon points="412.50,994.45 415.25,1000.09 409.75,1000.09" fill="#000"/>
<polygon points="455.10,1025.49 457.85,1031.12 452.35,1031.12" fill="#000"/>
<rect x="325.05" y="981.43" width="5.50" height="5.50" fill="#000"/>
<rect x="367.25" y="986.53" width="5.50" height="5.50" fill="#000"/>
<rect x="409.75" y="991.85" width="5.50" height="5.50" fill="#000"/>
<rect x="452.35" y="999.50" width="5.50" height="5.50" fill="#000"/>
<polygon points="327.80,981.02 330.55,984.18 327.80,987.34 325.05,984.18" fill="#000"/>
<polygon points="370.00,988.43 372.75,991.59 370.00,994.75 367.25,991.59" fill="#000"/>
<polygon points="412.50,991.90 415.25,995.07 412.50,998.23 409.75,995.07" fill="#000"/>
<polygon points="455.10,1001.17 457.85,1004.33 455.10,1007.49 452.35,1004.33" fill="#000"/>
<text x="461.20" y="1001.50" font-size="10" textLength="18.50" lengthAdjust="spacingAndGlyphs" class="sm">N3a</text>
<text x="461.20" y="1014.80" font-size="10" textLength="18.00" lengthAdjust="spacingAndGlyphs" class="sm">KPT</text>
<text x="437.00" y="1045.80" font-size="10" textLength="43.80" lengthAdjust="spacingAndGlyphs" class="sm">KPT+N3a</text>
<text x="329.70" y="1215.70" font-size="10.2" text-anchor="middle" class="sm">0</text>
<text x="329.70" y="1232.80" font-size="10.2" text-anchor="middle" class="sm">0</text>
<text x="372.90" y="1215.70" font-size="10.2" text-anchor="middle" class="sm">20</text>
<text x="372.90" y="1232.80" font-size="10.2" text-anchor="middle" class="sm">1</text>
<text x="415.60" y="1215.70" font-size="10.2" text-anchor="middle" class="sm">50</text>
<text x="415.60" y="1232.80" font-size="10.2" text-anchor="middle" class="sm">2.5</text>
<text x="458.80" y="1215.70" font-size="10.2" text-anchor="middle" class="sm">100</text>
<text x="458.80" y="1232.80" font-size="10.2" text-anchor="middle" class="sm">5</text>
<text x="469.70" y="1215.70" font-size="10.2" class="sm">(nM)</text>
<text x="469.70" y="1232.80" font-size="10.2" class="sm">(μM)</text>
<text x="0.80" y="17.50" font-size="22.8" font-weight="bold">A</text>
<text x="-0.30" y="677.40" font-size="22.8" font-weight="bold">B</text>
<text x="35.40" y="784.40" font-size="25" text-anchor="middle" textLength="113.00" lengthAdjust="spacingAndGlyphs" transform="rotate(-90 35.40 784.40)">MOLM-13</text>
<text x="35.20" y="1075.40" font-size="25" text-anchor="middle" textLength="85.50" lengthAdjust="spacingAndGlyphs" transform="rotate(-90 35.20 1075.40)">MV4;11</text>
<text x="53.00" y="916.30" font-size="10.0" textLength="43.20" lengthAdjust="spacingAndGlyphs" class="sm">KPT (nM)</text>
<text x="53.00" y="933.30" font-size="10.0" textLength="41.50" lengthAdjust="spacingAndGlyphs" class="sm">N3a (μM)</text>
<text x="53.00" y="1215.50" font-size="10.0" textLength="43.20" lengthAdjust="spacingAndGlyphs" class="sm">KPT (nM)</text>
<text x="53.00" y="1232.50" font-size="10.0" textLength="41.50" lengthAdjust="spacingAndGlyphs" class="sm">N3a (μM)</text>
</svg>
</body></html>
